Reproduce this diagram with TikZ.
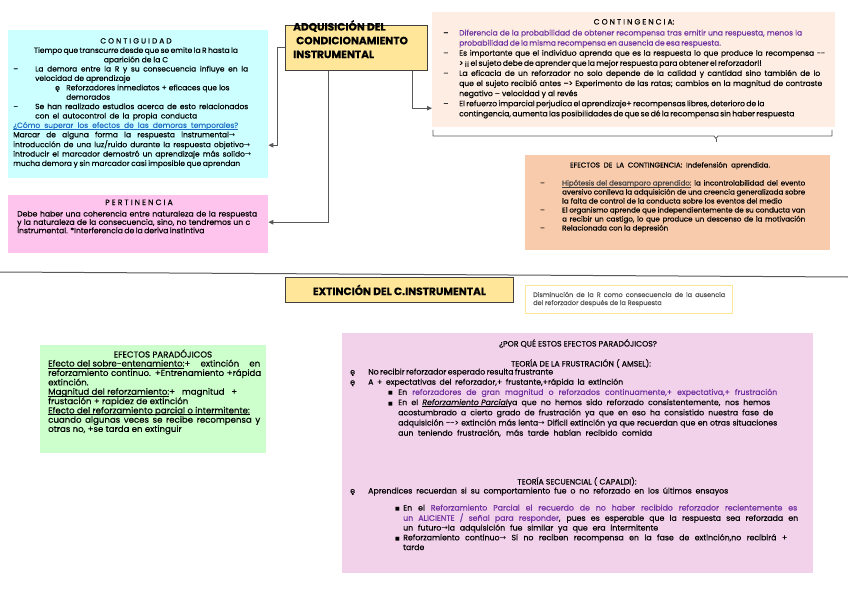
\documentclass[tikz,border=0pt]{standalone}
\usepackage{fontspec}
\setmainfont{Poppins}[FakeBold=0.35]
\newfontfamily\djv{DejaVu Sans}
\usetikzlibrary{arrows.meta,calc}
\definecolor{cyanc}{HTML}{CCFFFF}
\definecolor{pinkc}{HTML}{FFC4EE}
\definecolor{titlec}{HTML}{FFE699}
\definecolor{contc}{HTML}{FDEDE3}
\definecolor{efc}{HTML}{F8CBAD}
\definecolor{greenc}{HTML}{CCFFCC}
\definecolor{bigpc}{HTML}{F2D1EA}
\definecolor{purp}{HTML}{7030A0}
\definecolor{linkblue}{HTML}{1F6FC5}
\definecolor{dgray}{HTML}{404040}
\definecolor{linec}{HTML}{595959}
\definecolor{notec}{HTML}{555555}
\newcommand\rarr{{\djv →}}
\newcommand\sqb{{\djv\fontsize{5pt}{5pt}\selectfont ■}}
\newcommand\pu[1]{\textcolor{purp}{#1}}
\newcommand\F[2]{\makebox[#1pt][s]{#2}}
\newcommand\ul[1]{\setbox0\hbox{#1}\rlap{\rule[-1.4pt]{\wd0}{0.4pt}}\box0}
\tikzset{
  bx/.style={anchor=north west, inner sep=0pt, draw=none},
  tbox/.style={anchor=north west, inner sep=0pt, fill=titlec, draw=dgray, line width=0.8pt},
  tl/.style={inner sep=0pt, anchor=base west},
  tc/.style={inner sep=0pt, anchor=base},
  conn/.style={draw=linec, line width=0.9pt, -{Triangle[length=5pt,width=4.5pt]}},
  fcyan/.style={font=\fontsize{7.5pt}{9.4pt}\selectfont},
  fpink/.style={font=\fontsize{7.7pt}{8.3pt}\selectfont},
  fcont/.style={font=\fontsize{7.6pt}{10.1pt}\selectfont},
  fef/.style={font=\fontsize{7.1pt}{9pt}\selectfont},
  fgreen/.style={font=\fontsize{8.6pt}{9pt}\selectfont},
  fbig/.style={font=\fontsize{7.8pt}{10.2pt}\selectfont},
  fbigb/.style={font=\fontsize{7.8pt}{9.75pt}\selectfont},
  fnote/.style={font=\fontsize{6.5pt}{8pt}\selectfont, text=notec},
  fbold/.style={font=\fontsize{10.6pt}{13.8pt}\selectfont\bfseries},
}
\begin{document}
\begin{tikzpicture}[x=1pt,y=-1pt]
\useasboundingbox (0,0) rectangle (848,599);
\fill[white] (0,0) rectangle (848,599);

% boxes
\node[bx, fill=cyanc, minimum width=260pt, minimum height=148pt] (cyan) at (8,30) {};
\node[bx, fill=pinkc, minimum width=260pt, minimum height=58pt] (pink) at (8,195) {};
\node[tbox, minimum width=142pt, minimum height=45pt] (title) at (285,25) {};
\node[bx, fill=contc, minimum width=403pt, minimum height=115pt] (cont) at (432,12) {};
\node[bx, fill=efc, minimum width=305pt, minimum height=95pt] (efec) at (525,155) {};
\node[tbox, minimum width=228pt, minimum height=25pt] (ext) at (285,277) {};
\node[bx, draw=titlec, line width=1pt, fill=white, minimum width=207pt, minimum height=28pt] (note) at (525,285) {};
\node[bx, fill=greenc, minimum width=226pt, minimum height=108pt] (green) at (40,345) {};
\node[bx, fill=bigpc, minimum width=471pt, minimum height=240pt] (bigp) at (342,333) {};

% separator
\draw[linec, line width=1pt] (0,272) -- (848,277);

% brace under contingencia
\draw[linec, line width=0.8pt, line join=round] (433,130) -- (433,136) -- (714,136) -- (716,138.5) -- (718,136) -- (832,136) -- (832,130);
\draw[linec, line width=0.8pt] (716,138.5) -- (716,142);

% connectors
\draw[conn] (title.west) -- ++(-8,0) |- ([yshift=-41pt]cyan.east);
\draw[conn] ([xshift=-28pt]title.south) |- ([yshift=2pt]pink.east);
\draw[conn] ([xshift=56pt]title.south) |- ([yshift=-38.5pt]cont.west);

% title box text
\node[tl, fbold] (titletxt) at (293,30.5) {\begin{tabular}[t]{@{}l@{}}ADQUISICIÓN DEL\\ \hspace*{3pt}CONDICIONAMIENTO\\ INSTRUMENTAL\end{tabular}};

% cyan text
\node[tc, fcyan] (cyant) at (136,43.5) {\begin{tabular}[t]{@{}c@{}}C O N T I G U I D A D\\ \F{204}{Tiempo que transcurre desde que se emite la R hasta la}\\ aparición de la C\end{tabular}};
\node[tl, fcyan] (cyanb) at (13,71.5) {\begin{tabular}[t]{@{}l@{}}
\makebox[22pt][l]{–}\F{213}{La demora entre la R y su consecuencia influye en la}\\
\hspace*{22pt}velocidad de aprendizaje\\
\hspace*{42pt}\makebox[11pt][l]{ę}Reforzadores inmediatos + eficaces que los\\
\hspace*{53pt}demorados\\
\makebox[22pt][l]{–}\F{213}{Se han realizado estudios acerca de esto relacionados}\\
\hspace*{22pt}\F{162}{con el autocontrol de la propia conducta}\\
\textcolor{linkblue}{\ul{\F{225}{¿Cómo superar los efectos de las demoras temporales?}}}\\
\F{222}{Marcar de alguna forma la respuesta instrumental\rarr}\\
\F{237}{introducción de una luz/ruido durante la respuesta objetivo\rarr}\\
\F{238}{introducir el marcador demostró un aprendizaje más solido\rarr}\\
\F{227}{mucha demora y sin marcador casi imposible que aprendan}
\end{tabular}};

% pink text
\node[tc, fpink] (pinkt) at (139,205) {P E R T I N E N C I A};
\node[tl, fpink] (pinkb) at (17,216.5) {\begin{tabular}[t]{@{}l@{}}
\F{240}{Debe haber una coherencia entre naturaleza de la respuesta}\\
\F{233}{y la naturaleza de la consecuencia, sino, no tendremos un c}\\
\F{183}{instrumental. *Interferencia de la deriva instintiva}
\end{tabular}};

% contingencia text
\node[tc, fcont] (contt) at (634,24.5) {C O N T I N G E N C I A:};
\node[tl, fcont] (contb) at (443,35.5) {\begin{tabular}[t]{@{}l@{}}
\makebox[16pt][l]{–}\pu{\F{343}{Diferencia de la probabilidad de obtener recompensa tras emitir una respuesta, menos la}}\\
\hspace*{16pt}\pu{\F{248}{probabilidad de la misma recompensa en ausencia de esa respuesta.}}\\
\makebox[16pt][l]{–}\F{366}{Es importante que el individuo aprenda que es la respuesta lo que produce la recompensa -{}-}\\
\hspace*{16pt}\F{283}{> ¡¡ el sujeto debe de aprender que la mejor respuesta para obtener el reforzador!!}\\
\makebox[16pt][l]{–}\F{361}{La eficacia de un reforzador no solo depende de la calidad y cantidad sino también de lo}\\
\hspace*{16pt}\F{363}{que el sujeto recibió antes –> Experimento de las ratas; cambios en la magnitud de contraste}\\
\hspace*{16pt}negativo – velocidad y al revés\\
\makebox[16pt][l]{–}\F{284}{El refuerzo imparcial perjudica el aprendizaje+ recompensas libres, deterioro de la}\\
\hspace*{16pt}\F{318}{contingencia, aumenta las posibilidades de que se dé la recompensa sin haber respuesta}
\end{tabular}};

% efectos de la contingencia
\node[tc, fef] (eft) at (670,167.5) {\F{200}{EFECTOS DE LA CONTINGENCIA: Indefensión aprendida.}};
\node[tl, fef] (efb) at (540,185.5) {\begin{tabular}[t]{@{}l@{}}
\makebox[22pt][l]{–}\F{243}{\textcolor{dgray}{\ul{Hipótesis del desamparo aprendido:}} la incontrolabilidad del evento}\\
\hspace*{22pt}\F{243}{aversivo conlleva la adquisición de una creencia generalizada sobre}\\
\hspace*{22pt}\F{220}{la falta de control de la conducta sobre los eventos del medio}\\
\makebox[22pt][l]{–}\F{243}{El organismo aprende que independientemente de su conducta van}\\
\hspace*{22pt}\F{243}{a recibir un castigo, lo que produce un descenso de la motivación}\\
\makebox[22pt][l]{–}Relacionada con la depresión
\end{tabular}};

% extincion
\node[inner sep=0pt, fbold] (extt) at (ext.center) {EXTINCIÓN DEL C.INSTRUMENTAL};
\node[tl, fnote] (notet) at (533,297) {\begin{tabular}[t]{@{}l@{}}
\F{192}{Disminución de la R como consecuencia de la ausencia}\\
del reforzador después de la Respuesta
\end{tabular}};

% green
\node[tc, fgreen] (greent) at (163,357.5) {EFECTOS PARADÓJICOS};
\node[tl, fgreen] (greenb) at (48,366.5) {\begin{tabular}[t]{@{}l@{}}
\F{212}{\ul{Efecto del sobre-entenamiento:} + extinción en}\\
\F{213}{reforzamiento continuo. +Entrenamiento +rápida}\\
extinción.\\
\F{189}{\ul{Magnitud del reforzamiento:} + magnitud +}\\
frustación + rapidez de extinción\\
\ul{Efecto del reforzamiento parcial o intermitente:}\\
\F{212}{cuando algunas veces se recibe recompensa y}\\
otras no, +se tarda en extinguir
\end{tabular}};

% big pink
\node[tc, fbig] (bigt1) at (578,346.5) {¿POR QUÉ ESTOS EFECTOS PARADÓJICOS?};
\node[tc, fbig] (bigt2) at (581,366.5) {TEORÍA DE LA FRUSTRACIÓN ( AMSEL):};
\node[tl, fbig] (bigb1) at (350,374.5) {\begin{tabular}[t]{@{}l@{}}
\makebox[18pt][l]{ę}\F{185}{No recibir reforzador esperado resulta frustrante}\\
\makebox[18pt][l]{ę}\F{255}{A + expectativas del reforzador,+ frustante,+rápida la extinción}\\
\hspace*{38pt}\makebox[10pt][l]{\sqb}\F{379}{En \pu{reforzadores de gran magnitud o reforzados continuamente,+ expectativa,+ frustración}}\\
\hspace*{38pt}\makebox[10pt][l]{\sqb}\F{372}{En el \ul{\textit{Reforzamiento Parcial}} ya que no hemos sido reforzado consistentemente, nos hemos}\\
\hspace*{48pt}\F{375}{acostumbrado a cierto grado de frustración ya que en eso ha consistido nuestra fase de}\\
\hspace*{48pt}\F{379}{adquisición -{}-> extinción más lenta\rarr{} Difícil extinción ya que recuerdan que en otras situaciones}\\
\hspace*{48pt}\F{254}{aun teniendo frustración, más tarde habían recibido comida}
\end{tabular}};
\node[tc, fbig] (bigt3) at (577,484.5) {TEORÍA SECUENCIAL ( CAPALDI):};
\node[tl, fbigb] (bigb2) at (350,493.5) {\begin{tabular}[t]{@{}l@{}}
\makebox[18pt][l]{ę}\F{360}{Aprendices recuerdan si su comportamiento fue o no reforzado en los últimos ensayos}\\[7.25pt]
\hspace*{45pt}\makebox[8pt][l]{\sqb}\F{394}{En el \pu{Reforzamiento Parcial el recuerdo de no haber recibido reforzador recientemente es}}\\
\hspace*{53pt}\F{395}{\pu{un ALICIENTE / señal para responder}, pues es esperable que la respuesta sea reforzada en}\\
\hspace*{53pt}\F{255}{un futuro\rarr la adquisición fue similar ya que era intermitente}\\
\hspace*{45pt}\makebox[8pt][l]{\sqb}\F{384}{Reforzamiento continuo\rarr{} Si no reciben recompensa en la fase de extinción,no recibirá +}\\
\hspace*{53pt}tarde
\end{tabular}};
\end{tikzpicture}
\end{document}
